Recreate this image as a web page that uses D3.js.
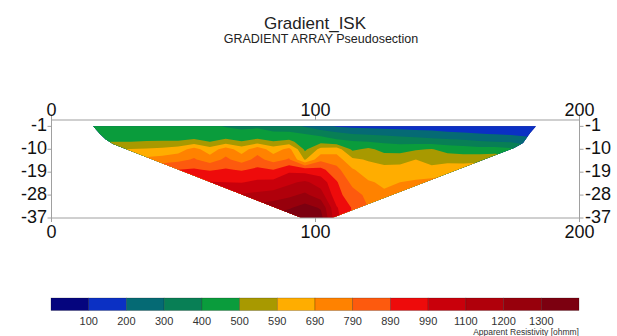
<!DOCTYPE html>
<html>
<head>
<meta charset="utf-8">
<script src="https://cdn.jsdelivr.net/npm/d3@7"></script>
<style>
  body { margin: 0; background: #fff; }
  svg { display: block; }
  text { font-family: "Liberation Sans", Arial, sans-serif; }
</style>
</head>
<body>
<svg id="chart" width="617" height="336"></svg>
<script>
// sample positions along the line (m) and pseudo depths (m)
const xPos = [12, 18, 24, 30, 36, 42, 48, 54, 60, 66, 72, 78, 84, 90, 96, 102, 108, 114, 120, 126, 132, 138, 144, 150, 156, 162, 168, 174, 180, 186, 192];
const depths = [-1, -4, -7, -10, -14, -18, -23, -28, -33, -37];

// apparent resistivity (ohmm), one row per depth level
const rho = [
  [450, 450, 450, 445, 445, 440, 440, 430, 420, 395, 380, 390, 360, 350, 290, 240, 195, 180, 170, 165, 160, 150, 150, 140, 140, 130, 130, 125, 120, 120, 120],
  [465, 465, 460, 460, 460, 455, 455, 450, 445, 440, 430, 430, 420, 420, 400, 370, 330, 300, 290, 280, 265, 255, 240, 225, 215, 205, 195, 185, 170, 160, 160],
  [495, 495, 498, 500, 503, 506, 505, 525, 500, 535, 505, 540, 505, 525, 450, 470, 430, 410, 400, 380, 370, 360, 350, 340, 330, 310, 300, 290, 260, 240, 240],
  [575, 580, 585, 592, 600, 612, 640, 730, 630, 740, 640, 750, 640, 720, 480, 620, 640, 480, 520, 470, 460, 490, 505, 465, 455, 440, 440, 420, 360, 340, 340],
  [690, 695, 700, 710, 720, 735, 760, 800, 740, 810, 745, 820, 750, 800, 580, 760, 740, 610, 580, 550, 560, 590, 545, 555, 545, 560, 575, 560, 500, 480, 480],
  [800, 800, 820, 840, 860, 880, 890, 900, 880, 900, 880, 910, 890, 960, 940, 920, 820, 700, 640, 625, 620, 615, 625, 650, 660, 650, 640, 620, 600, 580, 580],
  [940, 940, 950, 960, 970, 980, 985, 985, 995, 990, 985, 1010, 1020, 1080, 1120, 1050, 900, 760, 700, 675, 690, 710, 720, 730, 730, 700, 680, 660, 640, 620, 620],
  [1040, 1040, 1050, 1060, 1070, 1080, 1090, 1090, 1090, 1100, 1110, 1130, 1150, 1180, 1220, 1150, 920, 840, 760, 705, 730, 740, 740, 740, 740, 720, 700, 680, 660, 640, 640],
  [1140, 1140, 1150, 1160, 1170, 1180, 1190, 1190, 1200, 1210, 1220, 1240, 1260, 1290, 1340, 1290, 1000, 880, 790, 750, 760, 760, 760, 760, 750, 730, 710, 700, 690, 680, 680],
  [1240, 1240, 1240, 1250, 1260, 1270, 1280, 1290, 1300, 1300, 1310, 1320, 1340, 1360, 1400, 1340, 1020, 880, 810, 780, 780, 780, 780, 770, 760, 740, 720, 710, 700, 700, 700]
];

// data coverage outline of the pseudosection
const coverX = [15.8, 18.4, 20.6, 23.3, 94.9, 106.2, 175.2, 178.6, 181.3, 183.5];
const coverZ = [-1, -4, -6.2, -7.9, -37, -37, -9.5, -7.5, -3.6, -1];

const levels = [100, 200, 300, 400, 500, 590, 690, 790, 890, 990, 1100, 1200, 1300];
const levelColors = ["#05057e", "#0b30c4", "#056a74", "#087f55", "#0a9c3c", "#a89900", "#ffad00", "#ff8200", "#fd5a0e", "#ee0b0b", "#c9000b", "#b0000b", "#97000c", "#7c0010"];

const xTicks = [0, 100, 200];
const zTicks = [-1, -10, -19, -28, -37];

const svg = d3.select("#chart");

const x = d3.scaleLinear().domain([0, 200]).range([51.5, 579.5]);
const y = d3.scaleLinear().domain([1.5, -37]).range([120, 218]);

// grid index -> data coordinates
const colIdx = d3.scaleLinear().domain(d3.range(xPos.length)).range(xPos);
const rowIdx = d3.scaleLinear().domain(d3.range(depths.length)).range(depths);

// titles
svg.append("text")
  .attr("x", 315).attr("y", 29)
  .attr("text-anchor", "middle")
  .style("font-size", "17px").style("fill", "#222")
  .text("Gradient_ISK");
svg.append("text")
  .attr("x", 321).attr("y", 42.5)
  .attr("text-anchor", "middle")
  .style("font-size", "12.5px").style("fill", "#222")
  .text("GRADIENT ARRAY Pseudosection");

// clip to the covered area
svg.append("clipPath").attr("id", "cover")
  .append("polygon")
  .attr("points", coverX.map((d, i) => [x(d), y(coverZ[i])].join(",")).join(" "));

const contours = d3.contours()
  .size([xPos.length, depths.length])
  .thresholds([0, ...levels])(rho.flat());

const proj = d3.geoTransform({
  point(px, py) {
    this.stream.point(x(colIdx(px - 0.5)), y(rowIdx(py - 0.5)));
  }
});
const path = d3.geoPath(proj);

svg.append("g")
  .attr("clip-path", "url(#cover)")
  .selectAll("path")
  .data(contours)
  .join("path")
  .attr("d", path)
  .attr("fill", (d, i) => levelColors[i]);

// frame
const frame = svg.append("g").attr("fill", "none").attr("stroke", "#a0a0a0").attr("stroke-width", 1);
frame.append("rect")
  .attr("x", x(0)).attr("y", y(1.5))
  .attr("width", x(200) - x(0)).attr("height", y(-37) - y(1.5));

frame.selectAll("line.tt").data(xTicks).join("line")
  .attr("x1", d => x(d)).attr("x2", d => x(d))
  .attr("y1", y(1.5) - 4).attr("y2", y(1.5));
frame.selectAll("line.tb").data(xTicks).join("line")
  .attr("x1", d => x(d)).attr("x2", d => x(d))
  .attr("y1", y(-37)).attr("y2", y(-37) + 4);
frame.selectAll("line.tl").data(zTicks).join("line")
  .attr("x1", x(0) - 4).attr("x2", x(0))
  .attr("y1", d => y(d)).attr("y2", d => y(d));
frame.selectAll("line.tr").data(zTicks).join("line")
  .attr("x1", x(200)).attr("x2", x(200) + 4)
  .attr("y1", d => y(d)).attr("y2", d => y(d));

const tick = svg.append("g").style("font-size", "18px").style("fill", "#111");
tick.selectAll("text.top").data(xTicks).join("text")
  .attr("x", d => x(d)).attr("y", 116)
  .attr("text-anchor", "middle").text(d => d);
tick.selectAll("text.bot").data(xTicks).join("text")
  .attr("x", d => x(d)).attr("y", 238)
  .attr("text-anchor", "middle").text(d => d);
tick.selectAll("text.left").data(zTicks).join("text")
  .attr("x", x(0) - 4.5).attr("y", d => y(d) + 5)
  .attr("text-anchor", "end").text(d => d);
tick.selectAll("text.right").data(zTicks).join("text")
  .attr("x", x(200) + 5.5).attr("y", d => y(d) + 5)
  .attr("text-anchor", "start").text(d => d);

// colour bar
const cb = d3.scaleLinear().domain([0, levelColors.length]).range([51, 579]);
const bar = svg.append("g");
bar.selectAll("rect").data(levelColors).join("rect")
  .attr("x", (d, i) => cb(i)).attr("y", 298)
  .attr("width", cb(1) - cb(0)).attr("height", 12.5)
  .attr("fill", d => d)
  .attr("stroke", "rgba(0,0,0,0.35)").attr("stroke-width", 0.6);
bar.selectAll("text").data(levels).join("text")
  .attr("x", (d, i) => cb(i + 1)).attr("y", 324.5)
  .attr("text-anchor", "middle")
  .style("font-size", "11px").style("fill", "#333")
  .text(d => d);
svg.append("text")
  .attr("x", 579).attr("y", 334.5)
  .attr("text-anchor", "end")
  .style("font-size", "8.5px").style("fill", "#333")
  .text("Apparent Resistivity [ohmm]");
</script>
</body>
</html>
